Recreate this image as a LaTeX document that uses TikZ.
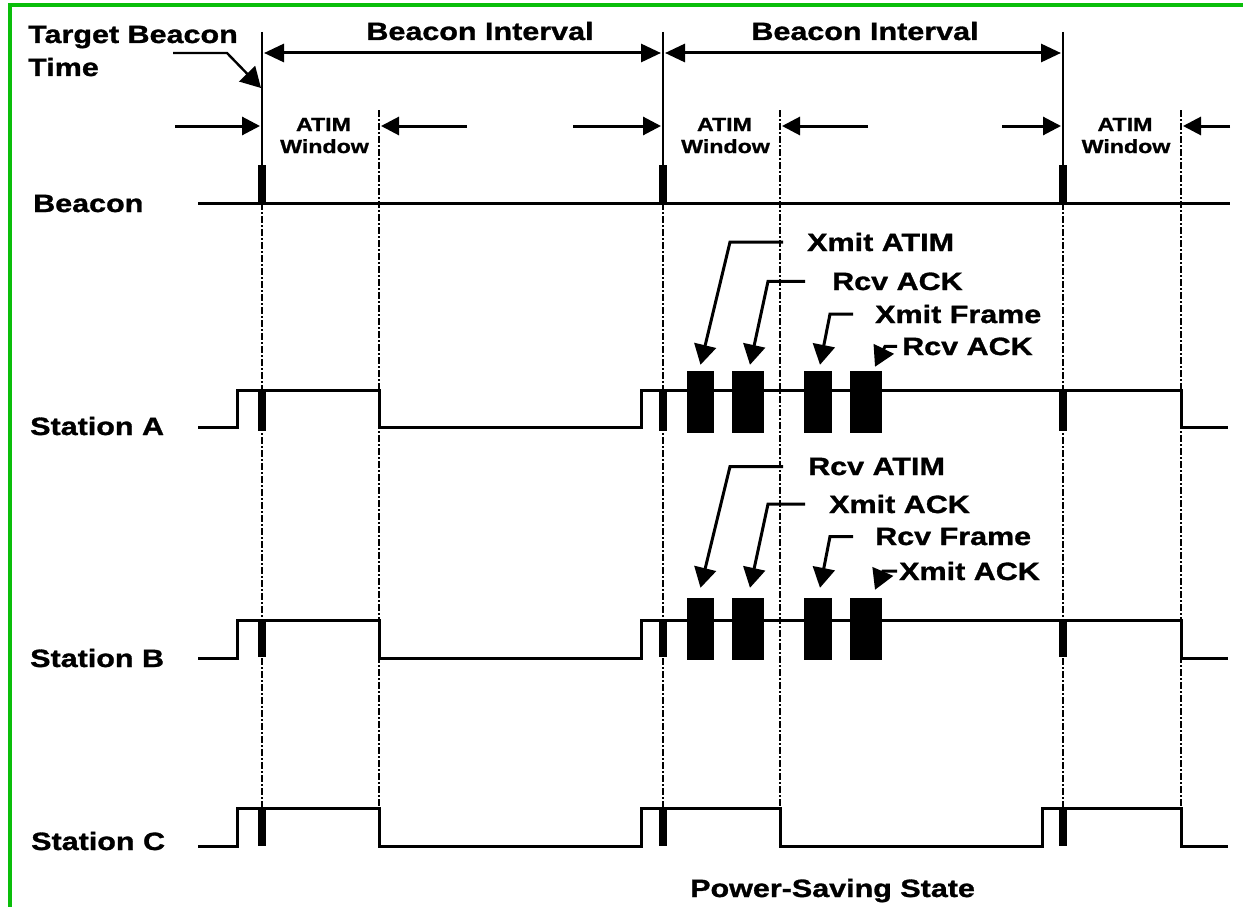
\documentclass[tikz,border=0pt]{standalone}
\usepackage{fontspec}
\setmainfont{Liberation Sans}[FakeStretch=1.22, BoldFeatures={FakeBold=1.2}]
\usetikzlibrary{arrows.meta,positioning}
\definecolor{framegreen}{RGB}{10,190,10}

\begin{document}
\begin{tikzpicture}[x=1pt, y=-1pt,
  lbl/.style={font=\bfseries\fontsize{25}{30}\selectfont, inner sep=0pt, anchor=base west},
  winlbl/.style={font=\bfseries\fontsize{19}{22}\selectfont, inner sep=0pt, align=center, anchor=base},
  sig/.style={line width=3pt, line join=miter},
  tick/.style={line width=1.4pt, dash pattern=on 7pt off 2pt on 2pt off 2pt},
  burst/.style={fill=black, inner sep=0pt, minimum height=62pt},
  dim/.style={line width=3pt, {Triangle[length=20pt,width=18pt]}-{Triangle[length=20pt,width=18pt]}},
  arr/.style={line width=3pt, -{Triangle[length=18pt,width=18pt]}},
  lead/.style={line width=3pt, line join=miter, -{Triangle[length=20pt,width=22pt]}}
]
\useasboundingbox (0,0) rectangle (1243,907);

% Frame
\draw[framegreen, line width=3.5pt] (10,912) |- (1248,5);

% Left labels
\node[lbl] (tbt) at (28,43) {Target Beacon};
\node[lbl] (tbtime) at (28,76) {Time};
\node[lbl] (beacon) at (33,212) {Beacon};
\node[lbl] (staA) at (30,435) {Station A};
\node[lbl] (staB) at (30,667) {Station B};
\node[lbl] (staC) at (31,850) {Station C};
\node[lbl] (psave) at (690,897) {Power-Saving State};

% Beacon intervals
\node[lbl, anchor=base] (bi1) at (480,40) {Beacon Interval};
\node[lbl, anchor=base] (bi2) at (865,40) {Beacon Interval};
\draw[dim] (264,53) -- (661,53);
\draw[dim] (665,53) -- (1061,53);
\coordinate (tbtarrow) at (173,53);
\draw[lead, line width=2.4pt] (tbtarrow) -- (227,53) -- (261,88);

% Target beacon times and ATIM windows
\foreach \t/\w in {262/379, 663/780, 1063/1181}{
  \draw[line width=2pt] (\t,32) -- (\t,165);
  \fill (\t-4,165) rectangle (\t+4,203);
  \draw[tick] (\t,203) -- (\t,808);
  \draw[tick] (\w,110) -- (\w,808);
  \node[winlbl] at ({(\t+\w)/2+3},131) {ATIM};
  \node[winlbl] at ({(\t+\w)/2+4},153) {Window};
}
\foreach \a/\b in {175/260, 573/661, 1002/1061}
  \draw[arr] (\a,126) -- (\b,126);
\foreach \a/\b in {467/381, 868/782, 1230/1183}
  \draw[arr] (\a,126) -- (\b,126);

% Beacon line
\draw[sig] (198,203) -- (1230,203);

% Station A
\draw[sig] (198,427) -- (237,427) -- (237,390) -- (379,390) -- (379,427)
  -- (641,427) -- (641,390) -- (1181,390) -- (1181,427) -- (1228,427);
\foreach \t in {262, 663, 1063}
  \fill (\t-4,390) rectangle (\t+4,431);
\node[burst, minimum width=27pt] (a1) at (700.5,402) {};
\node[burst, minimum width=32pt] (a2) at (748,402) {};
\node[burst, minimum width=28pt] (a3) at (818,402) {};
\node[burst, minimum width=32pt] (a4) at (866,402) {};

% Station B
\draw[sig] (198,658) -- (237,658) -- (237,620) -- (379,620) -- (379,658)
  -- (641,658) -- (641,620) -- (1181,620) -- (1181,658) -- (1228,658);
\foreach \t in {262, 663, 1063}
  \fill (\t-4,620) rectangle (\t+4,657);
\node[burst, minimum width=27pt] (b1) at (700.5,629) {};
\node[burst, minimum width=32pt] (b2) at (748,629) {};
\node[burst, minimum width=28pt] (b3) at (818,629) {};
\node[burst, minimum width=32pt] (b4) at (866,629) {};

% Station C
\draw[sig] (198,846) -- (237,846) -- (237,808) -- (379,808) -- (379,846)
  -- (641,846) -- (641,808) -- (780,808) -- (780,846) -- (1042,846)
  -- (1042,808) -- (1181,808) -- (1181,846) -- (1228,846);
\foreach \t in {262, 663, 1063}
  \fill (\t-4,808) rectangle (\t+4,846);

% Station A frame labels
\node[lbl] (xatim) at (807,251) {Xmit ATIM};
\node[lbl] (rack) at (832,290) {Rcv ACK};
\node[lbl] (xframe) at (875,323) {Xmit Frame};
\node[lbl] (rack2) at (902,355) {Rcv ACK};
\draw[lead] ([xshift=-24pt]xatim.west) -- ++(-53,0) -- ([yshift=6pt]a1.north);
\draw[lead] ([xshift=-27pt]rack.west) -- ++(-37,0) -- ([xshift=2pt,yshift=6pt]a2.north);
\draw[lead] ([xshift=-22pt]xframe.west) -- ++(-23,0) -- ([xshift=2pt,yshift=6pt]a3.north);
\draw[lead] ([xshift=-5pt]rack2.west) -- ++(-12,0) -- ([xshift=9pt,yshift=4pt]a4.north);

% Station B frame labels
\node[lbl] (ratim) at (808,475) {Rcv ATIM};
\node[lbl] (xack) at (829,513) {Xmit ACK};
\node[lbl] (rframe) at (875,545) {Rcv Frame};
\node[lbl] (xack2) at (899,580) {Xmit ACK};
\draw[lead] ([xshift=-25pt]ratim.west) -- ++(-53,0) -- ([yshift=10pt]b1.north);
\draw[lead] ([xshift=-24pt]xack.west) -- ++(-37,0) -- ([xshift=2pt,yshift=10pt]b2.north);
\draw[lead] ([xshift=-22pt]rframe.west) -- ++(-23,0) -- ([xshift=2pt,yshift=10pt]b3.north);
\draw[lead] ([xshift=-2pt]xack2.west) -- ++(-14,0) -- ([xshift=9pt,yshift=8pt]b4.north);

\end{tikzpicture}
\end{document}
